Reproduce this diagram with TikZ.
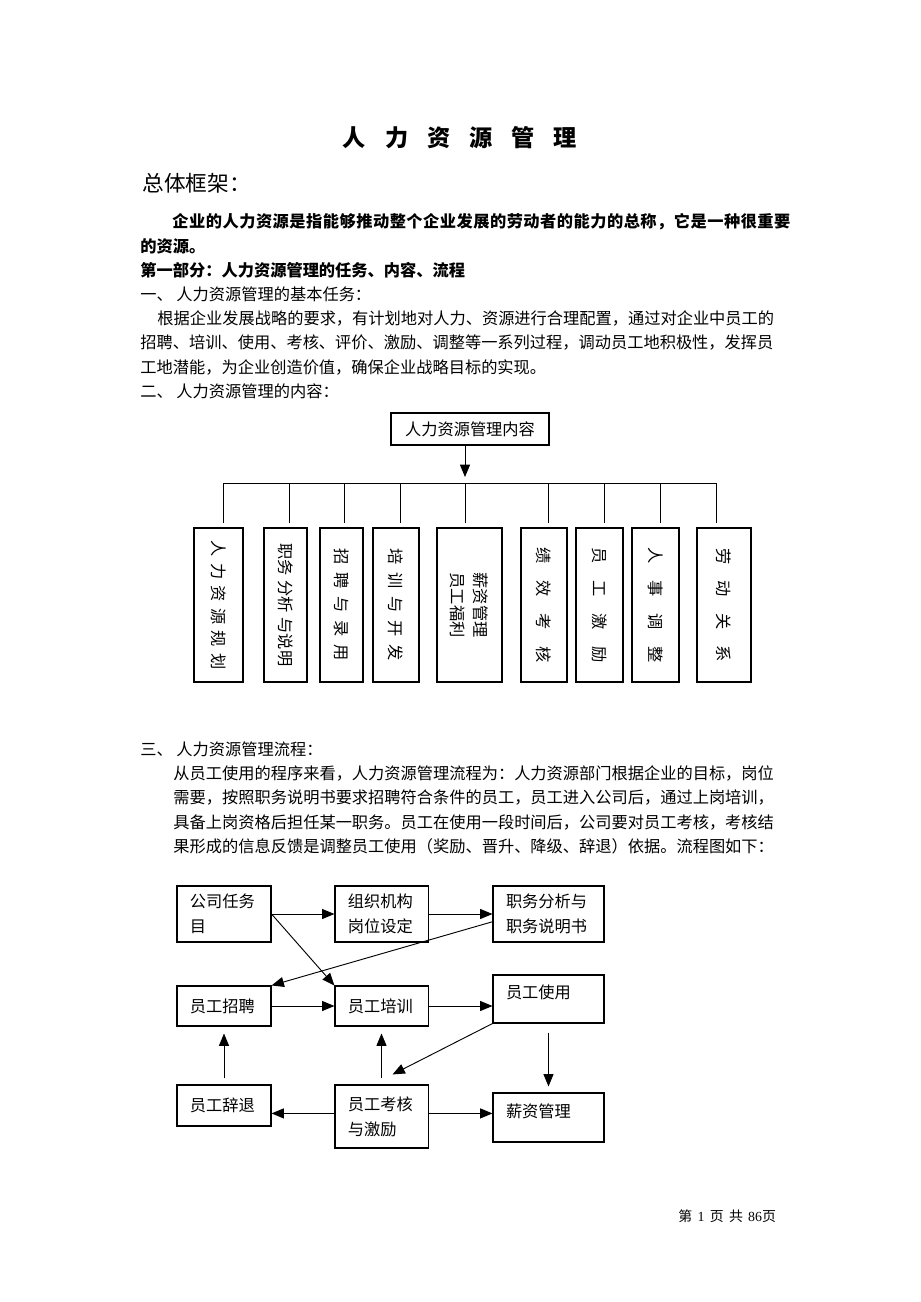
\documentclass[tikz,border=0pt]{standalone}
\usepackage{fontspec}
\setmainfont{Noto Sans CJK SC}
\newfontfamily\serifnum{Liberation Serif}
\usetikzlibrary{arrows.meta,calc}

\newcommand\px{0.647pt}
\newcommand\gp[1]{\hspace{#1}}

\tikzset{
	line/.style={anchor=base west, inner sep=0pt, font=\fontsize{10.5pt}{16pt}\selectfont},
	kbox/.style={draw, line width=0.7pt, rotate=-90, minimum width=154*\px, minimum height=#1*\px, inner sep=0pt, align=center, font=\fontsize{10.5pt}{15pt}\selectfont},
	fbox/.style={draw, line width=0.7pt, inner xsep=13*\px, inner ysep=0pt, align=left, text width=#1, font=\fontsize{10.5pt}{16.2pt}\selectfont},
	arr/.style={line width=0.6pt, -{Triangle[length=8pt,width=6.5pt]}},
}

\begin{document}
\begin{tikzpicture}[x=0.647pt, y=-0.647pt, line width=0.6pt]
	\fill[white] (0,0) rectangle (920,1302);
	\useasboundingbox (0,0) rectangle (920,1302);

	\node[anchor=base, inner sep=0pt, font=\bfseries\fontsize{15pt}{18pt}\selectfont] (title) at (460,146) {人\gp{12.3pt}力\gp{12.3pt}资\gp{12.3pt}源\gp{12.3pt}管\gp{12.3pt}理};
	\node[line, font=\fontsize{14pt}{16pt}\selectfont] (head) at (142,191) {总体框架：};

	\node[line, font=\bfseries\fontsize{10.5pt}{16pt}\selectfont\addfontfeatures{LetterSpace=3}] (p1a) at (172,227) {企业的人力资源是指能够推动整个企业发展的劳动者的能力的总称，它是一种很重要};
	\node[line, font=\bfseries\fontsize{10.5pt}{16pt}\selectfont] (p1b) at (140,252) {的资源。};
	\node[line, font=\bfseries\fontsize{10.5pt}{16pt}\selectfont] (part1) at (140,276) {第一部分：人力资源管理的任务、内容、流程};
	\node[line] (s1) at (140,300) {一、\gp{2.3pt}人力资源管理的基本任务：};
	\node[line] (p2a) at (157,324) {根据企业发展战略的要求，有计划地对人力、资源进行合理配置，通过对企业中员工的};
	\node[line] (p2b) at (140,348) {招聘、培训、使用、考核、评价、激励、调整等一系列过程，调动员工地积极性，发挥员};
	\node[line] (p2c) at (140,373) {工地潜能，为企业创造价值，确保企业战略目标的实现。};
	\node[line] (s2) at (140,397) {二、\gp{2.3pt}人力资源管理的内容：};

	\node[draw, line width=0.7pt, minimum width=158*\px, minimum height=32*\px, inner sep=0pt, font=\fontsize{10.5pt}{12pt}\selectfont] (cont) at (470,429) {人力资源管理内容};
	\coordinate (tip) at (465,477);
	\draw[arr] (tip |- cont.south) -- (tip);
	\foreach \d [count=\i] in {223,289,344,400,465,548,604,660,716}
	{
		\coordinate (u\i) at (\d,483);
		\coordinate (v\i) at (\d,523);
		\draw (u\i) -- (v\i);
	}
	\draw (u1) -- (u9);
	\node[kbox=49] (k1) at (218.5,605) {人\gp{4.1pt}力\gp{4.1pt}资\gp{4.1pt}源\gp{4.1pt}规\gp{4.1pt}划};
	\node[kbox=43] (k2) at (285.5,605) {职务\gp{3pt}分析\gp{3pt}与说明};
	\node[kbox=43] (k3) at (341.5,605) {招\gp{5pt}聘\gp{5pt}与\gp{5pt}录\gp{5pt}用};
	\node[kbox=46] (k4) at (396,605) {培\gp{5pt}训\gp{5pt}与\gp{5pt}开\gp{5pt}发};
	\node[kbox=65] (k5) at (469.5,605) {薪资管理\\员工福利};
	\node[kbox=46] (k6) at (544,605) {绩\gp{10.8pt}效\gp{10.8pt}考\gp{10.8pt}核};
	\node[kbox=47] (k7) at (599.5,605) {员\gp{10.8pt}工\gp{10.8pt}激\gp{10.8pt}励};
	\node[kbox=47] (k8) at (655.5,605) {人\gp{10.8pt}事\gp{10.8pt}调\gp{10.8pt}整};
	\node[kbox=54] (k9) at (724,605) {劳\gp{10.4pt}动\gp{10.4pt}关\gp{10.4pt}系};

	\node[line] (s3) at (140,755) {三、\gp{2.3pt}人力资源管理流程：};
	\node[line] (p3a) at (173,779) {从员工使用的程序来看，人力资源管理流程为：人力资源部门根据企业的目标，岗位};
	\node[line] (p3b) at (173,803) {需要，按照职务说明书要求招聘符合条件的员工，员工进入公司后，通过上岗培训，};
	\node[line] (p3c) at (173,828) {具备上岗资格后担任某一职务。员工在使用一段时间后，公司要对员工考核，考核结};
	\node[line] (p3d) at (173,852) {果形成的信息反馈是调整员工使用（奖励、晋升、降级、辞退）依据。流程图如下：};

	\node[fbox=44pt, minimum height=56*\px] (task) at (224,914) {公司任务\\目};
	\node[fbox=43.4pt, minimum height=56*\px] (org) at (381.5,914) {组织机构\\岗位设定};
	\node[fbox=55pt, minimum height=56*\px] (job) at (548.5,914) {职务分析与\\职务说明书};
	\node[fbox=44pt, minimum height=40*\px] (hire) at (224,1006) {员工招聘};
	\node[fbox=43.4pt, minimum height=40*\px] (train) at (381.5,1006) {员工培训};
	\node[fbox=55pt, minimum height=48*\px, text depth=9pt] (use) at (548.5,999) {员工使用};
	\node[fbox=44pt, minimum height=41*\px] (quit) at (224,1105.5) {员工辞退};
	\node[fbox=43.4pt, minimum height=63*\px] (eval) at (381.5,1116.5) {员工考核\\与激励};
	\node[fbox=55pt, minimum height=49*\px, text depth=9pt] (pay) at (548.5,1117.5) {薪资管理};

	\draw[arr] (task.east) -- (org.west);
	\draw[arr] (org.east) -- (job.west);
	\draw[arr] (task.east) -- (train.north west);
	\draw[arr] ([yshift=-5pt]job.west) -- (hire.north east);
	\draw[arr] (hire.east) -- (train.west);
	\draw[arr] (train.east) -- (train.east -| use.west);
	\draw[arr] (use.south west) -- ($(eval.north)+(11,-10)$);
	\draw[arr, shorten <=5.8pt, shorten >=3.9pt] (use.south) -- (pay.north);
	\draw[arr, shorten <=4pt, shorten >=4.5pt] (eval.north) -- (train.south);
	\draw[arr, shorten <=4pt, shorten >=4.5pt] (quit.north) -- (hire.south);
	\draw[arr] ([yshift=2pt]eval.west) -- ([yshift=2pt]eval.west -| quit.east);
	\draw[arr] ([yshift=2pt]eval.east) -- ([yshift=2pt]eval.east -| pay.west);

	\node[anchor=base west, inner sep=0pt, font=\fontsize{9pt}{11pt}\selectfont] (foot) at (678,1221) {第\gp{3.4pt}{\serifnum 1}\gp{3.4pt}页\gp{3.4pt}共\gp{3.4pt}{\serifnum 86}页};
\end{tikzpicture}
\end{document}
